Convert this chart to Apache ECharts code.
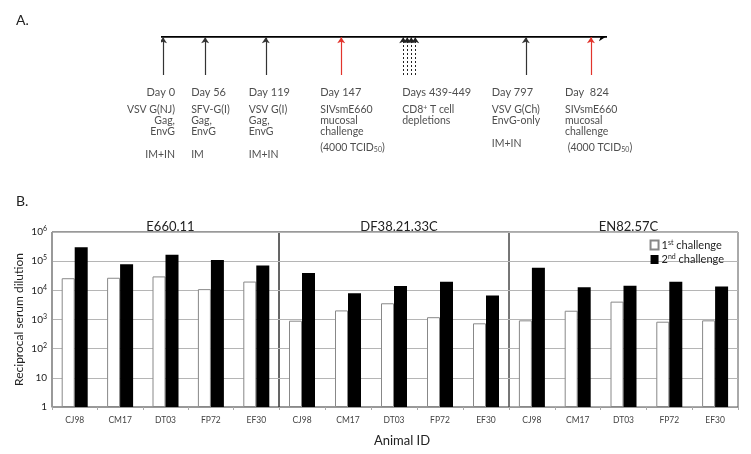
<!DOCTYPE html>
<html>
<head>
<meta charset="utf-8">
<script src="https://cdn.jsdelivr.net/npm/echarts@6/dist/echarts.min.js"></script>
<style>
  html, body { margin: 0; background: #fff; }
  #main { width: 751px; height: 454px; }
</style>
</head>
<body>
<div id="main"></div>
<script>
// ---- panel B data ----
var animals = ['CJ98', 'CM17', 'DT03', 'FP72', 'EF30'];
var panels = ['E660.11', 'DF38.21.33C', 'EN82.57C'];
var firstChallenge = [
  [2.6e4, 2.7e4, 3.0e4, 1.1e4, 2.0e4],
  [910, 2050, 3600, 1200, 740],
  [935, 2000, 4100, 840, 935]
];
var secondChallenge = [
  [3.0e5, 7.9e4, 1.66e5, 1.1e5, 7.1e4],
  [3.9e4, 7.9e3, 1.4e4, 1.95e4, 6.6e3],
  [6.0e4, 1.28e4, 1.45e4, 1.95e4, 1.35e4]
];

// ---- panel A timeline (schematic positions 0..100) ----
var arrowPos = [0.45, 9.9, 23.5, 40.4, 81.8, 96.4];
var arrowChallenge = [false, false, false, true, false, true];
var depletionPos = [54.3, 55.2, 56.1, 57.0];
var eventPos = [0.45, 9.9, 23.5, 40.4, 54.3, 81.8, 96.4];
var eventDay = ['Day 0', 'Day 56', 'Day 119', 'Day 147', 'Days 439-449', 'Day 797', 'Day  824'];
var eventAgent = [
  ['VSV G(NJ)', 'Gag,', 'EnvG'],
  ['SFV-G(I)', 'Gag,', 'EnvG'],
  ['VSV G(I)', 'Gag,', 'EnvG'],
  ['SIVsmE660', 'mucosal', 'challenge'],
  ['CD8{sup|+} T cell', 'depletions'],
  ['VSV G(Ch)', 'EnvG-only'],
  ['SIVsmE660', 'mucosal', 'challenge']
];
var eventRoute = ['IM+IN', 'IM', 'IM+IN', '(4000 TCID{sub|50})', '', 'IM+IN', ' (4000 TCID{sub|50})'];

var FONT = 'Lato';
var TXT = '#222';
var red = '#e2342c';

var chart = echarts.init(document.getElementById('main'));

// label text for each event
function eventText(i) {
  var s = '{d|' + eventDay[i] + '}\n{g7| }\n' + eventAgent[i].join('\n');
  if (eventRoute[i]) {
    var gap = eventAgent[i].length == 3 && arrowChallenge[arrowPos.indexOf(eventPos[i])] ? 'g5' : 'g12';
    s += '\n{' + gap + '| }\n' + eventRoute[i];
  }
  return s;
}
var labelAlign = ['right', 'left', 'left', 'left', 'left', 'left', 'left'];
var labelShift = [12, -14, -17, -21, -1, -34, -26];

var lineData = [{
  coords: [[0, 1], [100, 1]],
  lineStyle: { color: '#000', width: 2.5, opacity: 1 },
  symbolSize: [0, 8]
}];
arrowPos.forEach(function (p, i) {
  lineData.push({
    coords: [[p, 0], [p, 0.97]],
    lineStyle: { color: arrowChallenge[i] ? red : '#333', width: 1.2, opacity: 1 }
  });
});
depletionPos.forEach(function (p) {
  lineData.push({
    coords: [[p, 0], [p, 0.97]],
    lineStyle: { color: '#222', width: 1, type: [2, 2], opacity: 1 }
  });
});

var labelData = eventPos.map(function (p, i) {
  return {
    value: [p, 0],
    label: {
      align: labelAlign[i],
      offset: [labelShift[i], 0]
    }
  };
});

var grids = [
  { left: 52, width: 227, top: 232, height: 175, show: true, borderColor: '#333', borderWidth: 1 },
  { left: 279, width: 230, top: 232, height: 175, show: true, borderColor: '#333', borderWidth: 1 },
  { left: 509, width: 229, top: 232, height: 175, show: true, borderColor: '#555', borderWidth: 1 },
  { left: 161, width: 446, top: 36, height: 39 }
];

var xAxes = [], yAxes = [], series = [], titles = [];
panels.forEach(function (name, k) {
  xAxes.push({
    type: 'category', gridIndex: k, data: animals,
    axisLine: { lineStyle: { color: '#999' } },
    axisTick: { show: true, length: 3, lineStyle: { color: '#aaa' } },
    axisLabel: { interval: 0, fontSize: 8.5, color: '#444', margin: 9, fontFamily: FONT },
    name: k == 1 ? 'Animal ID' : '',
    nameLocation: 'middle', nameGap: 27,
    nameTextStyle: { fontSize: 13, color: TXT, fontFamily: FONT, padding: [0, 0, 0, 16] }
  });
  yAxes.push({
    type: 'log', gridIndex: k, min: 1, max: 1e6, logBase: 10, splitNumber: 6,
    axisLine: { show: k == 0, lineStyle: { color: '#999' } },
    axisTick: { show: false },
    splitLine: { lineStyle: { color: '#b5b5b5' } },
    axisLabel: {
      show: k == 0, margin: 5, fontSize: 10, color: TXT, fontFamily: FONT,
      formatter: function (v) {
        var e = Math.round(Math.log10(v));
        if (e == 0) return '1';
        if (e == 1) return '10';
        return '10{sup|' + e + '}';
      },
      rich: { sup: { fontSize: 7, verticalAlign: 'top', color: TXT, fontFamily: FONT, padding: [0, 0, 6, 0] } }
    },
    name: k == 0 ? 'Reciprocal serum dilution' : '',
    nameLocation: 'middle', nameGap: 27,
    nameTextStyle: { fontSize: 12, color: TXT, fontFamily: FONT }
  });
  series.push({
    type: 'bar', name: '1st challenge', xAxisIndex: k, yAxisIndex: k,
    data: firstChallenge[k], barWidth: 13, barGap: '0%',
    itemStyle: { color: '#fff', borderColor: '#888', borderWidth: 1 }
  });
  series.push({
    type: 'bar', name: '2nd challenge', xAxisIndex: k, yAxisIndex: k,
    data: secondChallenge[k], barWidth: 13, barGap: '0%',
    itemStyle: { color: '#000' }
  });
  titles.push({
    text: name, left: grids[k].left + grids[k].width / 2, top: 215, textAlign: 'center',
    textStyle: { fontSize: 13, fontWeight: 'normal', color: TXT, fontFamily: FONT }
  });
});
titles.push({ text: 'A.', left: 11, top: 8, textStyle: { fontSize: 14, fontWeight: 'normal', color: TXT, fontFamily: FONT } });
titles.push({ text: 'B.', left: 11, top: 189, textStyle: { fontSize: 14, fontWeight: 'normal', color: TXT, fontFamily: FONT } });

xAxes.push({ type: 'value', gridIndex: 3, min: 0, max: 100, show: false });
yAxes.push({ type: 'value', gridIndex: 3, min: 0, max: 1, show: false });

series.push({
  type: 'lines', coordinateSystem: 'cartesian2d', xAxisIndex: 3, yAxisIndex: 3,
  symbol: ['none', 'arrow'], symbolSize: [0, 6], silent: true,
  lineStyle: { opacity: 1 },
  data: lineData
});
series.push({
  type: 'scatter', xAxisIndex: 3, yAxisIndex: 3, symbolSize: 1, silent: true,
  itemStyle: { color: 'transparent' },
  data: labelData,
  label: {
    show: true, position: 'bottom', distance: 11,
    fontSize: 10.5, lineHeight: 11, color: TXT, fontFamily: FONT,
    formatter: function (p) { return eventText(p.dataIndex); },
    rich: {
      d: { fontSize: 11, lineHeight: 11, color: TXT, fontFamily: FONT },
      g7: { fontSize: 4, lineHeight: 7 },
      g5: { fontSize: 4, lineHeight: 5 },
      g12: { fontSize: 4, lineHeight: 12 },
      sup: { fontSize: 7, verticalAlign: 'top', color: TXT, fontFamily: FONT, padding: [0, 0, 5, 0] },
      sub: { fontSize: 7, verticalAlign: 'bottom', color: TXT, fontFamily: FONT, padding: [4, 0, 0, 0] }
    }
  }
});

chart.setOption({
  animation: false,
  textStyle: { fontFamily: FONT },
  title: titles,
  grid: grids,
  xAxis: xAxes,
  yAxis: yAxes,
  legend: {
    data: ['1st challenge', '2nd challenge'],
    orient: 'vertical', right: 22, top: 234, itemGap: 3,
    itemWidth: 8, itemHeight: 9, icon: 'rect', selectedMode: false,
    formatter: function (n) {
      return n.charAt(0) + '{sup|' + n.substr(1, 2) + '}' + n.substr(3);
    },
    textStyle: {
      fontSize: 11, color: TXT, fontFamily: FONT, padding: [0, 0, 0, -2],
      rich: { sup: { fontSize: 7, verticalAlign: 'top', color: TXT, fontFamily: FONT, padding: [0, 0, 5, 0] } }
    }
  },
  series: series
});
</script>
</body>
</html>
